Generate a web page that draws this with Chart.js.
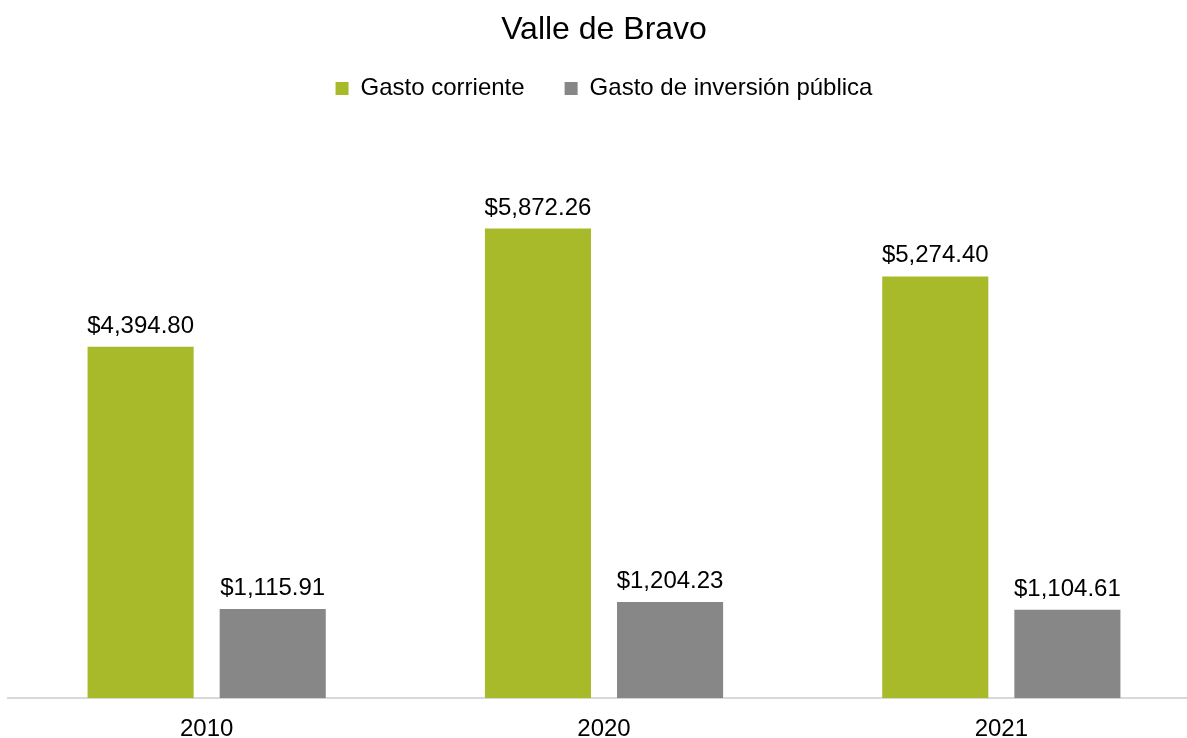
<!DOCTYPE html>
<html>
<head>
<meta charset="utf-8">
<script src="https://cdn.jsdelivr.net/npm/chart.js@4/dist/chart.umd.min.js"></script>
<style>
  html, body { margin: 0; padding: 0; background: #fff; overflow: hidden; }
  #wrap { width: 1200px; height: 738px; }
</style>
</head>
<body>
<div id="wrap"><canvas id="chart" width="1200" height="738"></canvas></div>
<script>
"use strict";

// ── Data ────────────────────────────────────────────────────────────────────
const YEARS = ["2010", "2020", "2021"];
const GASTO_CORRIENTE = [4394.80, 5872.26, 5274.40];
const GASTO_INVERSION = [1115.91, 1204.23, 1104.61];

const GREEN = "#A8B92A";
const GREY  = "#878787";
const FONT  = "'Liberation Sans', Arial, sans-serif";

const money = v => "$" + v.toLocaleString("en-US", { minimumFractionDigits: 2, maximumFractionDigits: 2 });

// ── Value labels above bars ─────────────────────────────────────────────────
const valueLabels = {
  id: "valueLabels",
  afterDatasetsDraw(chart) {
    const ctx = chart.ctx;
    ctx.save();
    ctx.font = `24px ${FONT}`;
    ctx.fillStyle = "#000";
    ctx.textAlign = "center";
    ctx.textBaseline = "alphabetic";
    chart.data.datasets.forEach((ds, i) => {
      chart.getDatasetMeta(i).data.forEach((bar, j) => {
        ctx.fillText(money(ds.data[j]), bar.x, bar.y - 14);
      });
    });
    ctx.restore();
  },
};

// ── Chart ───────────────────────────────────────────────────────────────────
new Chart(document.getElementById("chart"), {
  type: "bar",
  data: {
    labels: YEARS,
    datasets: [
      { label: "Gasto corriente", data: GASTO_CORRIENTE, backgroundColor: GREEN },
      { label: "Gasto de inversión pública", data: GASTO_INVERSION, backgroundColor: GREY },
    ],
  },
  options: {
    responsive: false,
    animation: false,
    categoryPercentage: 0.665,
    barPercentage: 0.803,
    layout: { padding: { left: 8, right: 0, top: 11, bottom: -23 } },
    scales: {
      x: {
        grid: { display: false, drawTicks: false },
        border: { display: true, color: "#D9D9D9", width: 2 },
        ticks: { color: "#000", font: { family: FONT, size: 24 }, padding: 17 },
      },
      y: {
        display: false,
        min: 0,
        max: 7350,
      },
    },
    plugins: {
      title: {
        display: true,
        text: "Valle de Bravo",
        color: "#000",
        font: { family: FONT, size: 32, weight: "normal" },
        padding: { top: 0, bottom: -13 },
      },
      legend: {
        position: "top",
        labels: {
          color: "#000",
          font: { family: FONT, size: 24 },
          boxWidth: 13,
          boxHeight: 13,
          padding: 40,
        },
      },
      tooltip: { enabled: false },
    },
  },
  plugins: [valueLabels],
});
</script>
</body>
</html>
